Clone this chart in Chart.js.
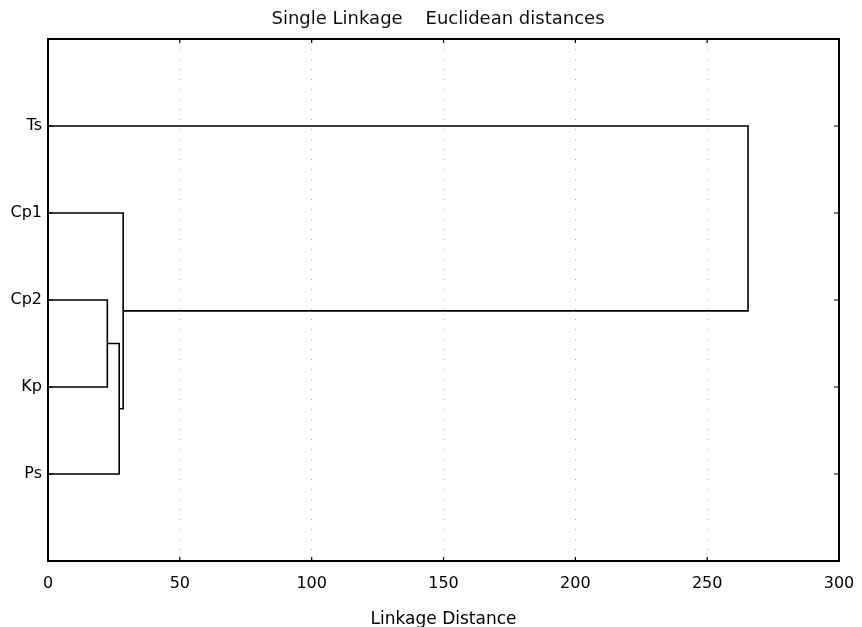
<!DOCTYPE html>
<html>
<head>
<meta charset="utf-8">
<script src="https://cdn.jsdelivr.net/npm/chart.js@4/dist/chart.umd.min.js"></script>
<style>
  html, body { margin: 0; padding: 0; background: #fff; }
  #wrap { width: 862px; height: 627px; }
</style>
</head>
<body>
<div id="wrap"><canvas id="c" width="862" height="627"></canvas></div>
<script>
// ---- data ----
const titleText = 'Single Linkage    Euclidean distances';
const xAxisTitle = 'Linkage Distance';
const leaves = ['Ts', 'Cp1', 'Cp2', 'Kp', 'Ps'];
// merges: cluster M1..M4 formed by joining mergeA[i] with mergeB[i] at mergeDist[i]
const mergeNames = ['M1', 'M2', 'M3', 'M4'];
const mergeA = ['Cp2', 'M1', 'Cp1', 'Ts'];
const mergeB = ['Kp', 'Ps', 'M2', 'M3'];
const mergeDist = [22.5, 27.0, 28.5, 265.5];
const xTicks = [0, 50, 100, 150, 200, 250, 300];

// ---- build dendrogram segments ----
const nodes = {};
leaves.forEach((n, i) => { nodes[n] = { x: 0, y: i + 1 }; });
const datasets = [];
mergeNames.forEach((m, i) => {
  const a = nodes[mergeA[i]], b = nodes[mergeB[i]], d = mergeDist[i];
  datasets.push({
    data: [{ x: a.x, y: a.y }, { x: d, y: a.y }, { x: d, y: b.y }, { x: b.x, y: b.y }],
    showLine: true, borderColor: '#000', borderWidth: 1.6, pointRadius: 0, tension: 0, fill: false
  });
  nodes[m] = { x: d, y: (a.y + b.y) / 2 };
});

const FONT = 'DejaVu Sans';

const framePlugin = {
  id: 'frame',
  afterDraw(chart) {
    const { ctx, chartArea: ca, scales } = chart;
    ctx.save();
    // title
    ctx.fillStyle = '#111';
    ctx.font = '18px "' + FONT + '"';
    ctx.textAlign = 'center';
    ctx.textBaseline = 'middle';
    ctx.fillText(titleText, 438, 19);
    // frame
    ctx.strokeStyle = '#000';
    ctx.lineWidth = 2;
    ctx.strokeRect(ca.left, ca.top, ca.right - ca.left, ca.bottom - ca.top);
    // inner ticks
    ctx.lineWidth = 1.2;
    ctx.beginPath();
    xTicks.forEach(v => {
      const px = scales.x.getPixelForValue(v);
      ctx.moveTo(px, ca.top); ctx.lineTo(px, ca.top + 4);
      ctx.moveTo(px, ca.bottom); ctx.lineTo(px, ca.bottom - 4);
    });
    leaves.forEach((n, i) => {
      const py = scales.y.getPixelForValue(i + 1);
      ctx.moveTo(ca.left, py); ctx.lineTo(ca.left + 5, py);
      ctx.moveTo(ca.right, py); ctx.lineTo(ca.right - 5, py);
    });
    ctx.stroke();
    ctx.restore();
  }
};

new Chart(document.getElementById('c'), {
  type: 'scatter',
  data: { datasets },
  options: {
    responsive: false,
    animation: false,
    layout: { padding: { top: 39, right: 23, bottom: 0, left: 0 } },
    plugins: { legend: { display: false }, tooltip: { enabled: false }, title: { display: false } },
    scales: {
      x: {
        type: 'linear', min: 0, max: 300,
        afterBuildTicks: s => { s.ticks = xTicks.map(v => ({ value: v })); },
        afterFit: s => { s.height = 66; s.paddingLeft = 0; s.paddingRight = 0; },
        ticks: { color: '#000', font: { family: FONT, size: 16 }, padding: 13, maxRotation: 0 },
        grid: { color: '#aaa', lineWidth: 1, drawTicks: false },
        border: { display: false, dash: [1, 9] },
        title: { display: true, text: xAxisTitle, color: '#000', font: { family: FONT, size: 17 }, padding: { top: 0, bottom: -3 } }
      },
      y: {
        type: 'linear', min: 0, max: 6, reverse: true,
        afterBuildTicks: s => { s.ticks = leaves.map((n, i) => ({ value: i + 1 })); },
        afterFit: s => { s.width = 48; s.paddingTop = 0; s.paddingBottom = 0; },
        ticks: { color: '#000', font: { family: FONT, size: 16 }, padding: 6, callback: v => leaves[v - 1] || '' },
        grid: { display: false, drawTicks: false },
        border: { display: false }
      }
    }
  },
  plugins: [framePlugin]
});
</script>
</body>
</html>
